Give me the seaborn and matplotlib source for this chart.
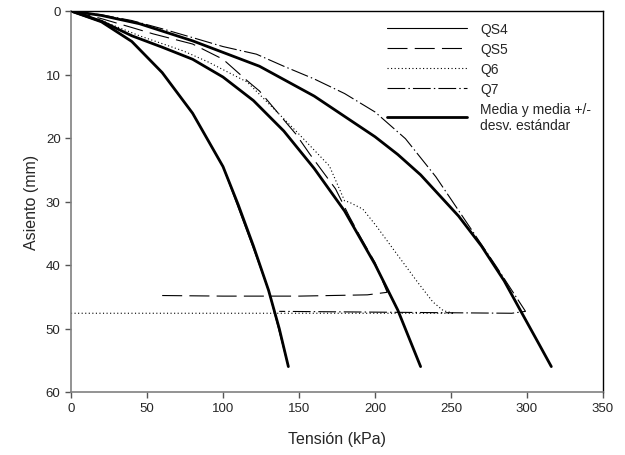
import matplotlib
matplotlib.use("Agg")
import matplotlib.pyplot as plt
import seaborn as sns

# Curvas de ensayo (tensión kPa, asiento mm)
qs4_x = [0, 20, 40, 60, 80, 100, 120, 130, 143]
qs4_y = [0, 1.7, 4.8, 9.7, 16.1, 24.5, 37.4, 44.0, 56.0]

qs5_x = [0, 20, 40, 54, 80, 100, 116, 124, 148, 157, 174, 183, 190, 200, 208, 195, 150, 100, 57]
qs5_y = [0, 1.2, 2.6, 3.6, 5.2, 7.6, 11.0, 12.6, 19.4, 22.5, 28.0, 32.3, 35.4, 39.6, 44.3, 44.7, 44.9, 44.9, 44.8]

q6_x = [0, 20, 45, 74, 90, 116, 148, 170, 180, 183, 192, 201, 212, 228, 238, 245, 252, 0]
q6_y = [0, 1.5, 3.9, 6.3, 8.0, 11.2, 18.9, 24.4, 29.9, 30.1, 31.2, 33.9, 37.5, 42.7, 45.8, 47.2, 47.6, 47.6]

q7_x = [0, 20, 40, 60, 83, 100, 122, 140, 160, 180, 200, 220, 240, 260, 280, 299, 290, 137]
q7_y = [0, 0.6, 1.5, 2.8, 4.4, 5.6, 6.8, 8.7, 10.7, 13.0, 15.9, 20.1, 26.1, 33.2, 40.3, 47.3, 47.6, 47.3]

# Media y media +/- desviación estándar
med_x = [0, 20, 40, 60, 80, 100, 120, 140, 160, 180, 200, 215, 230]
med_y = [0, 1.6, 3.9, 5.7, 7.6, 10.4, 14.1, 18.9, 24.8, 31.5, 39.9, 47.1, 56.0]

sup_x = [0, 20, 45, 80, 124, 160, 200, 215, 230, 255, 270, 285, 296, 308, 316]
sup_y = [0, 0.7, 2.0, 4.7, 8.7, 13.4, 19.8, 22.6, 25.8, 32.3, 37.0, 42.5, 47.3, 52.5, 56.0]

inf_x = [0, 20, 40, 60, 80, 100, 110, 120, 130, 137, 143]
inf_y = [0, 1.7, 4.8, 9.7, 16.1, 24.5, 30.5, 37.0, 44.0, 50.0, 56.0]

sns.set_style("ticks")
plt.rcParams['font.family'] = ['Liberation Sans', 'DejaVu Sans']

fig = plt.figure(figsize=(6.25, 4.56), dpi=100)
ax = fig.add_axes([71 / 625, 1 - 393 / 456, (603 - 71) / 625, (393 - 12) / 456])

lw = 0.8
sns.lineplot(x=qs4_x, y=qs4_y, sort=False, estimator=None, ax=ax, color='black',
             linewidth=lw, label='QS4')
sns.lineplot(x=qs5_x, y=qs5_y, sort=False, estimator=None, ax=ax, color='black',
             linewidth=lw, linestyle=(0, (18, 6.5)), label='QS5')
sns.lineplot(x=q6_x, y=q6_y, sort=False, estimator=None, ax=ax, color='black',
             linewidth=lw, linestyle=(0, (1.0, 2.2)), label='Q6')
sns.lineplot(x=q7_x, y=q7_y, sort=False, estimator=None, ax=ax, color='black',
             linewidth=lw, linestyle=(0, (16, 2.8, 1.3, 2.8)), label='Q7')
sns.lineplot(x=med_x, y=med_y, sort=False, estimator=None, ax=ax, color='black',
             linewidth=2.0, label='Media y media +/-\ndesv. estándar')
sns.lineplot(x=sup_x, y=sup_y, sort=False, estimator=None, ax=ax, color='black',
             linewidth=2.0)
sns.lineplot(x=inf_x, y=inf_y, sort=False, estimator=None, ax=ax, color='black',
             linewidth=2.0)

ax.set_xlim(0, 350)
ax.set_ylim(60, 0)
ax.set_xticks(range(0, 351, 50))
ax.set_yticks(range(0, 61, 10))
ax.set_xlabel('Tensión (kPa)', fontsize=11.5, labelpad=12)
ax.set_ylabel('Asiento (mm)', fontsize=11.5, labelpad=5)
ax.tick_params(labelsize=9.5, length=4, width=1, color='#555555', direction='out')

for side in ['left', 'bottom']:
    ax.spines[side].set_color('#808080')
    ax.spines[side].set_linewidth(1.2)
for side in ['top', 'right']:
    ax.spines[side].set_visible(True)
    ax.spines[side].set_color('black')
    ax.spines[side].set_linewidth(1.0)

ax.legend(loc='upper left', bbox_to_anchor=(0.584, 0.985), frameon=False,
          fontsize=10, handlelength=5.75, handletextpad=0.95, labelspacing=0.42,
          borderaxespad=0)

fig.savefig('out.png', dpi=100)
